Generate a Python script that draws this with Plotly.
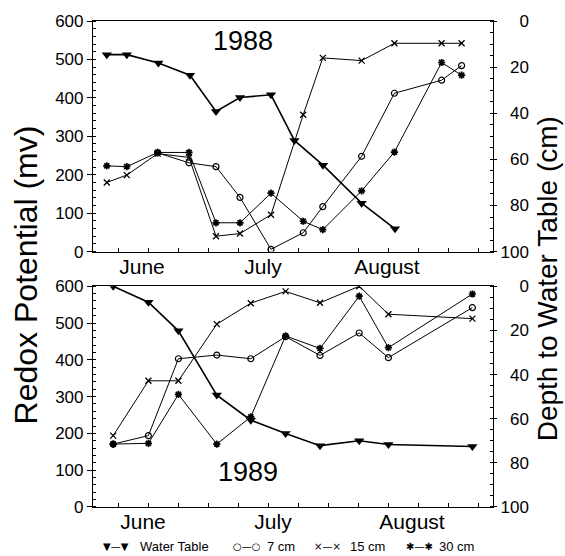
import plotly.graph_objects as go

# ---------------- data (x = days after 1 June) ----------------
# 1988
wt88_day = [5.7, 10.7, 18.6, 26.5, 33.0, 39.0, 46.75, 52.6, 59.75, 69.4, 77.75]
wt88_depth = [14.6, 14.6, 18.2, 23.5, 39.2, 33.2, 32.0, 51.8, 62.5, 79.0, 90.1]

r88_day = [5.7, 10.7, 18.4, 26.25, 33.0, 39.0, 46.75, 54.8, 59.7, 69.4, 77.6, 89.4, 94.4]
cm7_88_day = r88_day[2:]
cm7_88 = [257, 231, 221, 141, 6, 49, 117, 248, 412, 446, 484]
cm15_88 = [180, 199, 255, 245, 40, 47, 96, 356, 504, 497, 542, 542, 542]
cm30_88 = [223, 221, 258, 258, 75, 75, 152, 79, 57, 158, 259, 492, 459]

# 1989
r89_day = [7.3, 16.1, 23.6, 33.2, 41.7, 50.4, 59.0, 68.8, 76.1, 97.1]
wt89_depth = [0.0, 7.2, 20.2, 49.3, 60.7, 66.7, 72.2, 70.0, 71.7, 72.6]
cm7_89 = [171, 194, 403, 413, 403, 463, 412, 473, 406, 542]
cm15_89 = [194, 343, 343, 497, 554, 586, 555, 600, 524, 512]
cm30_89 = [171, 173, 306, 171, 245, 465, 431, 573, 433, 579]

month_labels = ["June", "July", "August"]
month_pos_88 = [14.5, 44.75, 75.75]
month_pos_89 = [14.75, 47.25, 82.0]

depth_ticks = [0, 20, 40, 60, 80, 100]
redox_ticks = [0, 100, 200, 300, 400, 500, 600]

legend_symbols = ["▼—▼", "○—○", "×—×", "✱—✱"]
legend_labels = ["Water Table", "7 cm", "15 cm", "30 cm"]

FONT = "Liberation Sans, Arial, Helvetica, sans-serif"
BLK = "black"

fig = go.Figure()

def add_set(day_wt, wt, days, c7d, c7, c15, c30, xa, ya, ya2):
    fig.add_trace(go.Scatter(x=day_wt, y=wt, xaxis=xa, yaxis=ya2, mode="lines+markers",
                             line=dict(color=BLK, width=1.6),
                             marker=dict(symbol="triangle-down", size=9, color=BLK),
                             showlegend=False, name="Water Table"))
    fig.add_trace(go.Scatter(x=c7d, y=c7, xaxis=xa, yaxis=ya, mode="lines+markers",
                             line=dict(color=BLK, width=1),
                             marker=dict(symbol="circle-open", size=6, color=BLK, line=dict(width=1.2)),
                             showlegend=False, name="7 cm"))
    fig.add_trace(go.Scatter(x=days, y=c15, xaxis=xa, yaxis=ya, mode="lines+markers",
                             line=dict(color=BLK, width=1),
                             marker=dict(symbol="x-thin-open", size=6, color=BLK, line=dict(width=1.3)),
                             showlegend=False, name="15 cm"))
    fig.add_trace(go.Scatter(x=days, y=c30, xaxis=xa, yaxis=ya, mode="lines+markers",
                             line=dict(color=BLK, width=1),
                             marker=dict(symbol="asterisk-open", size=6, color=BLK, line=dict(width=1.7)),
                             showlegend=False, name="30 cm"))

add_set(wt88_day, wt88_depth, r88_day, cm7_88_day, cm7_88, cm15_88, cm30_88, "x", "y", "y2")
add_set(r89_day, wt89_depth, r89_day, r89_day, cm7_89, cm15_89, cm30_89, "x2", "y3", "y4")

xr = [2.25, 102.25]
minor_x = dict(ticks="inside", ticklen=4, tickcolor=BLK, tick0=1, dtick=7.5, showgrid=False)

def xax(anchor, pos):
    return dict(range=xr, domain=[0, 1], anchor=anchor, showline=True, linecolor=BLK, linewidth=1.2,
                mirror=True, ticks="", tickmode="array", tickvals=pos, ticktext=month_labels,
                tickfont=dict(family=FONT, size=21, color=BLK), showgrid=False, zeroline=False,
                ticklabelstandoff=-4, minor=minor_x)

def yleft(domain, anchor):
    return dict(range=[0, 600], domain=domain, anchor=anchor, showline=True, linecolor=BLK, linewidth=1.2,
                ticks="outside", ticklen=5, tickcolor=BLK, tickmode="array", tickvals=redox_ticks,
                tickfont=dict(family=FONT, size=17, color=BLK), showgrid=False, zeroline=False,
                minor=dict(ticks="inside", ticklen=3, tickcolor=BLK, dtick=20, showgrid=False))

pad = {0: "\u2007\u20070", 20: "\u200720", 40: "\u200740", 60: "\u200760", 80: "\u200780", 100: "100"}

def yright(overlay, anchor):
    return dict(range=[100, 0], overlaying=overlay, side="right", anchor=anchor, showline=True,
                linecolor=BLK, linewidth=1.2, ticks="outside", ticklen=3, tickcolor=BLK,
                tickmode="array", tickvals=depth_ticks, ticktext=[pad[v] for v in depth_ticks],
                tickfont=dict(family=FONT, size=17, color=BLK), showgrid=False, zeroline=False,
                minor=dict(ticks="inside", ticklen=3, tickcolor=BLK, dtick=5, showgrid=False))

top_dom = [0.5255, 1.0]
bot_dom = [0.0, 0.4542]

fig.update_layout(
    width=565, height=556,
    margin=dict(l=93, r=72, t=16, b=49),
    paper_bgcolor="white", plot_bgcolor="white",
    font=dict(family=FONT, color=BLK),
    xaxis=xax("y", month_pos_88),
    xaxis2=xax("y3", month_pos_89),
    yaxis=yleft(top_dom, "x"),
    yaxis2=yright("y", "x"),
    yaxis3=yleft(bot_dom, "x2"),
    yaxis4=yright("y3", "x2"),
    showlegend=False,
)

def px_x(p):
    return (p - 93) / 400

def px_y(p):
    return (507 - p) / 491

def ann(text, x, y, size, xanchor="center", angle=0, family=FONT):
    return dict(text=text, x=px_x(x), y=px_y(y), xref="paper", yref="paper",
                xanchor=xanchor, yanchor="middle", textangle=angle, showarrow=False,
                font=dict(size=size, family=family, color=BLK))

annotations = [
    ann("1988", 243, 36, 27),
    ann("1989", 248, 472, 27),
    ann("Redox Potential (mv)", 26, 273, 32, angle=-90),
    ann("Depth to Water Table (cm)", 547, 277, 28, angle=-90),
]
sym_x = [101, 231, 312, 404]
lab_x = [138, 265, 348, 437]
for s, l, sx, lx in zip(legend_symbols, legend_labels, sym_x, lab_x):
    annotations.append(ann(s, sx, 547, 10, xanchor="left", family="DejaVu Sans, " + FONT))
    annotations.append(ann(l, lx, 547, 13, xanchor="left"))
fig.update_layout(annotations=annotations)

fig.write_html("out.html", config={"displayModeBar": False},
               post_script="document.body.style.margin='0px';")
